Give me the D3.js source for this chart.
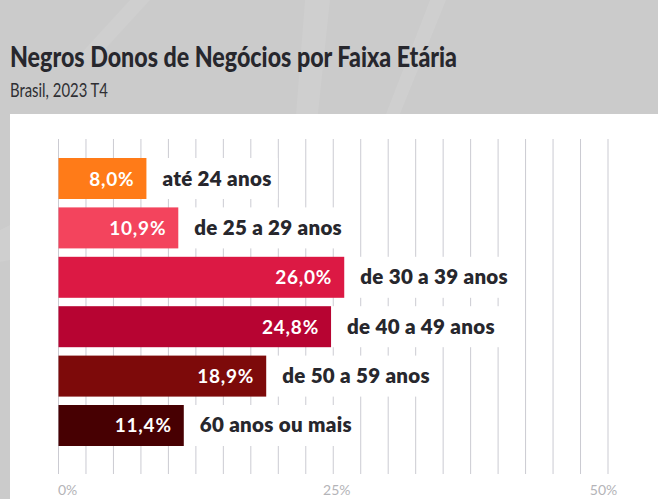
<!DOCTYPE html>
<html>
<head>
<meta charset="utf-8">
<script src="https://cdn.jsdelivr.net/npm/d3@7"></script>
<style>
  body { margin: 0; background: #cbcbcb; }
  svg { display: block; font-family: Lato, "Open Sans", sans-serif; }
</style>
</head>
<body>
<svg width="658" height="499"></svg>
<script>
    var categories = ['até 24 anos', 'de 25 a 29 anos', 'de 30 a 39 anos', 'de 40 a 49 anos', 'de 50 a 59 anos', '60 anos ou mais']
    var values = [8.0, 10.9, 26.0, 24.8, 18.9, 11.4]
    var colors = ['#ff7b18', '#f3445d', '#dc1944', '#b70432', '#7d0a0a', '#470002']
    var tickLabels = [0, 25, 50]

    var width = 658
    var height = 499

    var svg = d3.select('svg')

    // grey backdrop with a few faint streaks
    svg.append('rect').attr('width', width).attr('height', height).attr('fill', '#cbcbcb')
    var streaks = [
      [[130, 0], [150, 0], [95, 60], [75, 60]],
      [[305, 0], [330, 0], [318, 114], [296, 114]],
      [[430, 0], [446, 0], [400, 114], [386, 114]],
      [[0, 230], [10, 225], [10, 260], [0, 262]]
    ]
    svg.selectAll('.streak')
      .data(streaks)
      .enter().append('polygon')
      .attr('class', 'streak')
      .attr('points', d => d.join(' '))
      .attr('fill', '#fff')
      .attr('opacity', 0.08)

    svg.append('text')
      .attr('x', 10).attr('y', 67)
      .attr('font-size', 29).attr('font-weight', 900)
      .attr('fill', '#27272d')
      .attr('textLength', 447).attr('lengthAdjust', 'spacingAndGlyphs')
      .text('Negros Donos de Negócios por Faixa Etária')

    svg.append('text')
      .attr('x', 10).attr('y', 97)
      .attr('font-size', 20)
      .attr('fill', '#2f2f33')
      .attr('textLength', 98).attr('lengthAdjust', 'spacingAndGlyphs')
      .text('Brasil, 2023 T4')

    // white panel
    svg.append('rect')
      .attr('x', 10).attr('y', 114)
      .attr('width', width - 10).attr('height', height - 114)
      .attr('fill', '#fff')

    var xScale = d3.scaleLinear()
      .domain([0, 50])
      .range([58.5, 608])

    var yScale = d3.scaleBand()
      .domain(categories)
      .range([158, 446])
      .paddingInner(0.17)
      .paddingOuter(0)

    // gridlines every 2.5%
    svg.append('g')
      .selectAll('line')
      .data(d3.range(0, 50.01, 2.5))
      .enter().append('line')
      .attr('x1', d => xScale(d)).attr('x2', d => xScale(d))
      .attr('y1', 139).attr('y2', 474)
      .attr('stroke', '#cbcbd2')
      .attr('stroke-width', 1)

    var xAxis = d3.axisBottom().scale(xScale)
      .tickValues(tickLabels)
      .tickSize(0)
      .tickFormat(d => d + '%')

    var axis = svg.append('g')
      .attr('transform', 'translate(' + [0, 482] + ')')
      .call(xAxis)
    axis.select('.domain').remove()
    axis.selectAll('text')
      .attr('font-family', 'Lato, sans-serif')
      .attr('font-size', 14)
      .attr('fill', '#b4b4b8')
      .attr('text-anchor', d => d === 0 ? 'start' : 'middle')
      .attr('dx', d => d === 50 ? -5 : (d === 25 ? 3 : -1))

    var rows = categories.map((c, i) => ({ cat: c, val: values[i], color: colors[i] }))

    var row = svg.selectAll('.row')
      .data(rows)
      .enter().append('g')
      .attr('class', 'row')

    var labels = row.append('text')
      .attr('x', d => xScale(d.val) + 16)
      .attr('y', d => yScale(d.cat) + yScale.bandwidth() / 2 + 7)
      .attr('font-size', 20.5).attr('font-weight', 800)
      .attr('letter-spacing', 0.3)
      .attr('fill', '#27272d')
      .text(d => d.cat)

    // white box behind category labels, hides gridlines
    labels.each(function (d) {
      var w = this.getComputedTextLength()
      d3.select(this.parentNode).insert('rect', 'text')
        .attr('x', xScale(d.val))
        .attr('y', yScale(d.cat))
        .attr('width', w + 22)
        .attr('height', yScale.bandwidth())
        .attr('fill', '#fff')
    })

    row.insert('rect', 'text')
      .attr('x', xScale(0))
      .attr('y', d => yScale(d.cat))
      .attr('width', d => xScale(d.val) - xScale(0))
      .attr('height', yScale.bandwidth())
      .attr('fill', d => d.color)

    row.append('text')
      .attr('x', d => xScale(d.val) - 12)
      .attr('y', d => yScale(d.cat) + yScale.bandwidth() / 2 + 7)
      .attr('text-anchor', 'end')
      .attr('font-size', 19).attr('font-weight', 700)
      .attr('letter-spacing', 0.8)
      .attr('fill', '#fff')
      .text(d => d3.format('.1f')(d.val).replace('.', ',') + '%')
</script>
</body>
</html>
